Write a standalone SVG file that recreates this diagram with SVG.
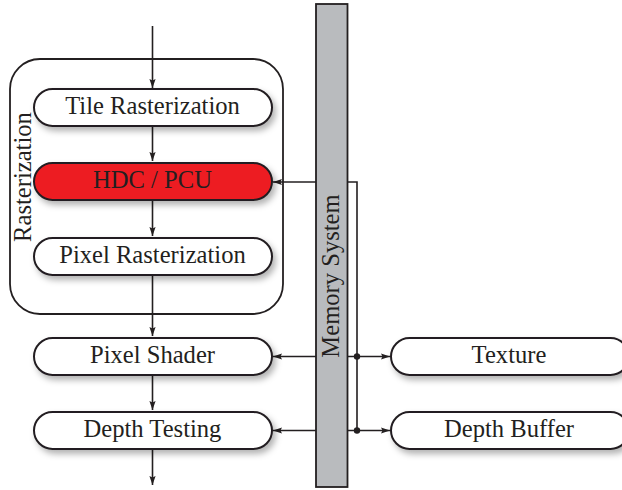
<svg xmlns="http://www.w3.org/2000/svg" width="622" height="490" viewBox="0 0 622 490">
<style>
text{font-family:"Liberation Serif","Times New Roman",serif;fill:#231f20;text-anchor:middle}
.l{font-size:24.6px}
.n{stroke:#231f20;stroke-width:2;fill:#fff;filter:url(#s)}
.c{fill:none;stroke:#231f20;stroke-width:1.6}
.a{marker-end:url(#m)}
</style>
<defs>
<marker id="m" markerUnits="userSpaceOnUse" markerWidth="10" markerHeight="8" refX="9" refY="4" orient="auto"><path d="M0 0.9L9 4L0 7.1L1.5 4Z" fill="#231f20"/></marker>
<filter id="s" x="-10%" y="-30%" width="120%" height="170%"><feDropShadow dx="3" dy="4" stdDeviation="3" flood-color="#000" flood-opacity=".3"/></filter>
</defs>
<g id="rasterization-group">
<rect x="10" y="59" width="273" height="255" rx="30" fill="#fff" stroke="#231f20" stroke-width="1.8"/>
<text class="l" transform="translate(31 177) rotate(-90)">Rasterization</text>
</g>
<g id="memory-system">
<rect x="316" y="4" width="31.500" height="483" fill="#b9bbbe" stroke="#231f20" stroke-width="1.800"/>
<text class="l" transform="translate(339 276) rotate(-90)">Memory System</text>
</g>
<g id="connectors">
<path class="c a" d="M152.500 26V88"/>
<path class="c a" d="M152.500 127V161"/>
<path class="c a" d="M152.500 201V236"/>
<path class="c a" d="M152.500 276V336"/>
<path class="c a" d="M152.500 376V410"/>
<path class="c a" d="M152.500 450V485"/>
<path class="c a" d="M316 182H273"/>
<path class="c a" d="M316 356.500H273"/>
<path class="c a" d="M316 430.500H273"/>
<path class="c" d="M347 182H357V430.500"/>
<path class="c a" d="M347 356.500H390"/>
<path class="c a" d="M347 430.500H390"/>
<circle cx="357" cy="356.500" r="3.200" fill="#231f20"/>
<circle cx="357" cy="430.500" r="3.200" fill="#231f20"/>
</g>
<g id="tile-rasterization">
<rect class="n" x="34" y="89" width="238" height="37" rx="18.500"/>
<text class="l" x="152.500" y="114">Tile Rasterization</text>
</g>
<g id="hdc-pcu">
<rect class="n" x="34" y="163" width="238" height="37" rx="18.500" style="fill:#ed1c24"/>
<text class="l" x="152.500" y="188">HDC / PCU</text>
</g>
<g id="pixel-rasterization">
<rect class="n" x="34" y="238" width="238" height="37" rx="18.500"/>
<text class="l" x="152.500" y="263">Pixel Rasterization</text>
</g>
<g id="pixel-shader">
<rect class="n" x="34" y="338" width="238" height="37" rx="18.500"/>
<text class="l" x="152.500" y="363">Pixel Shader</text>
</g>
<g id="depth-testing">
<rect class="n" x="34" y="412" width="238" height="37" rx="18.500"/>
<text class="l" x="152.500" y="437">Depth Testing</text>
</g>
<g id="texture">
<rect class="n" x="391" y="338" width="238" height="37" rx="18.500"/>
<text class="l" x="509" y="363">Texture</text>
</g>
<g id="depth-buffer">
<rect class="n" x="391" y="412" width="238" height="37" rx="18.500"/>
<text class="l" x="509" y="437">Depth Buffer</text>
</g>
</svg>
